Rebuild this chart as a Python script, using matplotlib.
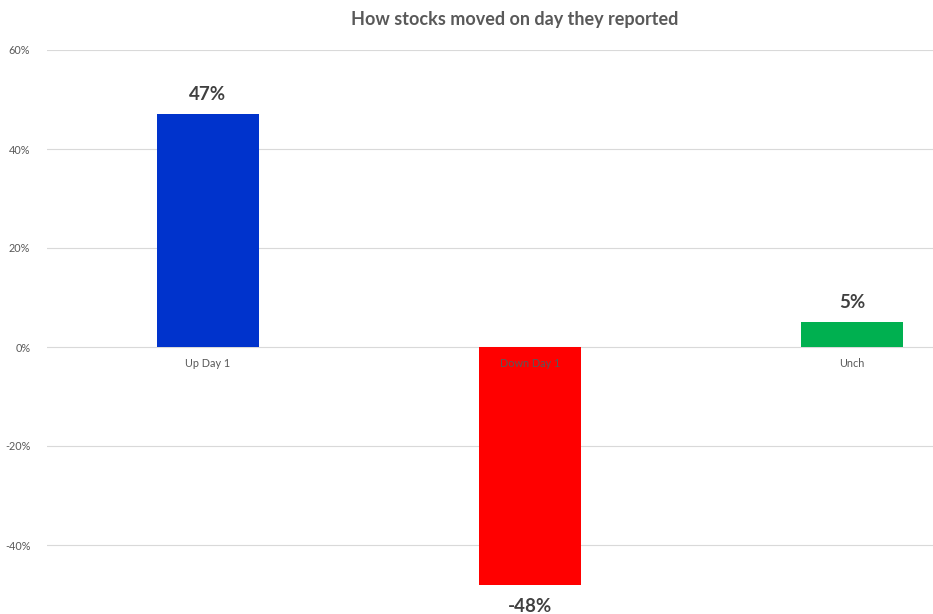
import matplotlib.pyplot as plt
from matplotlib.ticker import FuncFormatter

categories = ['Up Day 1', 'Down Day 1', 'Unch']
values = [0.47, -0.48, 0.05]
labels = ['47%', '-48%', '5%']
colors = ['#0033CC', '#FF0000', '#00B050']
yticks = [-0.4, -0.2, 0.0, 0.2, 0.4, 0.6]

plt.rcParams['font.family'] = ['Lato', 'DejaVu Sans']
grey = '#595959'

fig = plt.figure(figsize=(9.33, 6.14), dpi=100)
# plot area runs past the right and bottom edges (picture is cropped)
ax = fig.add_axes([47 / 933, 1 - 644 / 614, 966 / 933, 594 / 614])
ax.set_xlim(-0.5, 2.5)
ax.set_ylim(-0.6, 0.6)

x = list(range(len(categories)))
ax.bar(x, values, width=0.316, color=colors, zorder=2)

ax.set_yticks(yticks)
ax.yaxis.set_major_formatter(FuncFormatter(lambda v, p: f'{v * 100:.0f}%'))
ax.tick_params(axis='y', length=0, pad=12, labelsize=7.8, labelcolor=grey)
ax.set_xticks([])
ax.grid(axis='y', color='#d9d9d9', linewidth=0.8, zorder=0)
for s in ax.spines.values():
    s.set_visible(False)

for i, c in enumerate(categories):
    ax.annotate(c, (i, 0), xytext=(0, -12), textcoords='offset points',
                ha='center', va='center', fontsize=7.8, color=grey, zorder=3)

for i, (v, lab) in enumerate(zip(values, labels)):
    off = 14 if v > 0 else -16
    ax.annotate(lab, (i, v), xytext=(0, off), textcoords='offset points',
                ha='center', va='center', fontsize=13.5, fontweight='bold',
                color='#404040', zorder=3)

fig.text(515 / 933, 1 - 20 / 614, 'How stocks moved on day they reported',
         ha='center', va='center', fontsize=13, fontweight='bold', color=grey)

fig.savefig('out.png', dpi=100)
